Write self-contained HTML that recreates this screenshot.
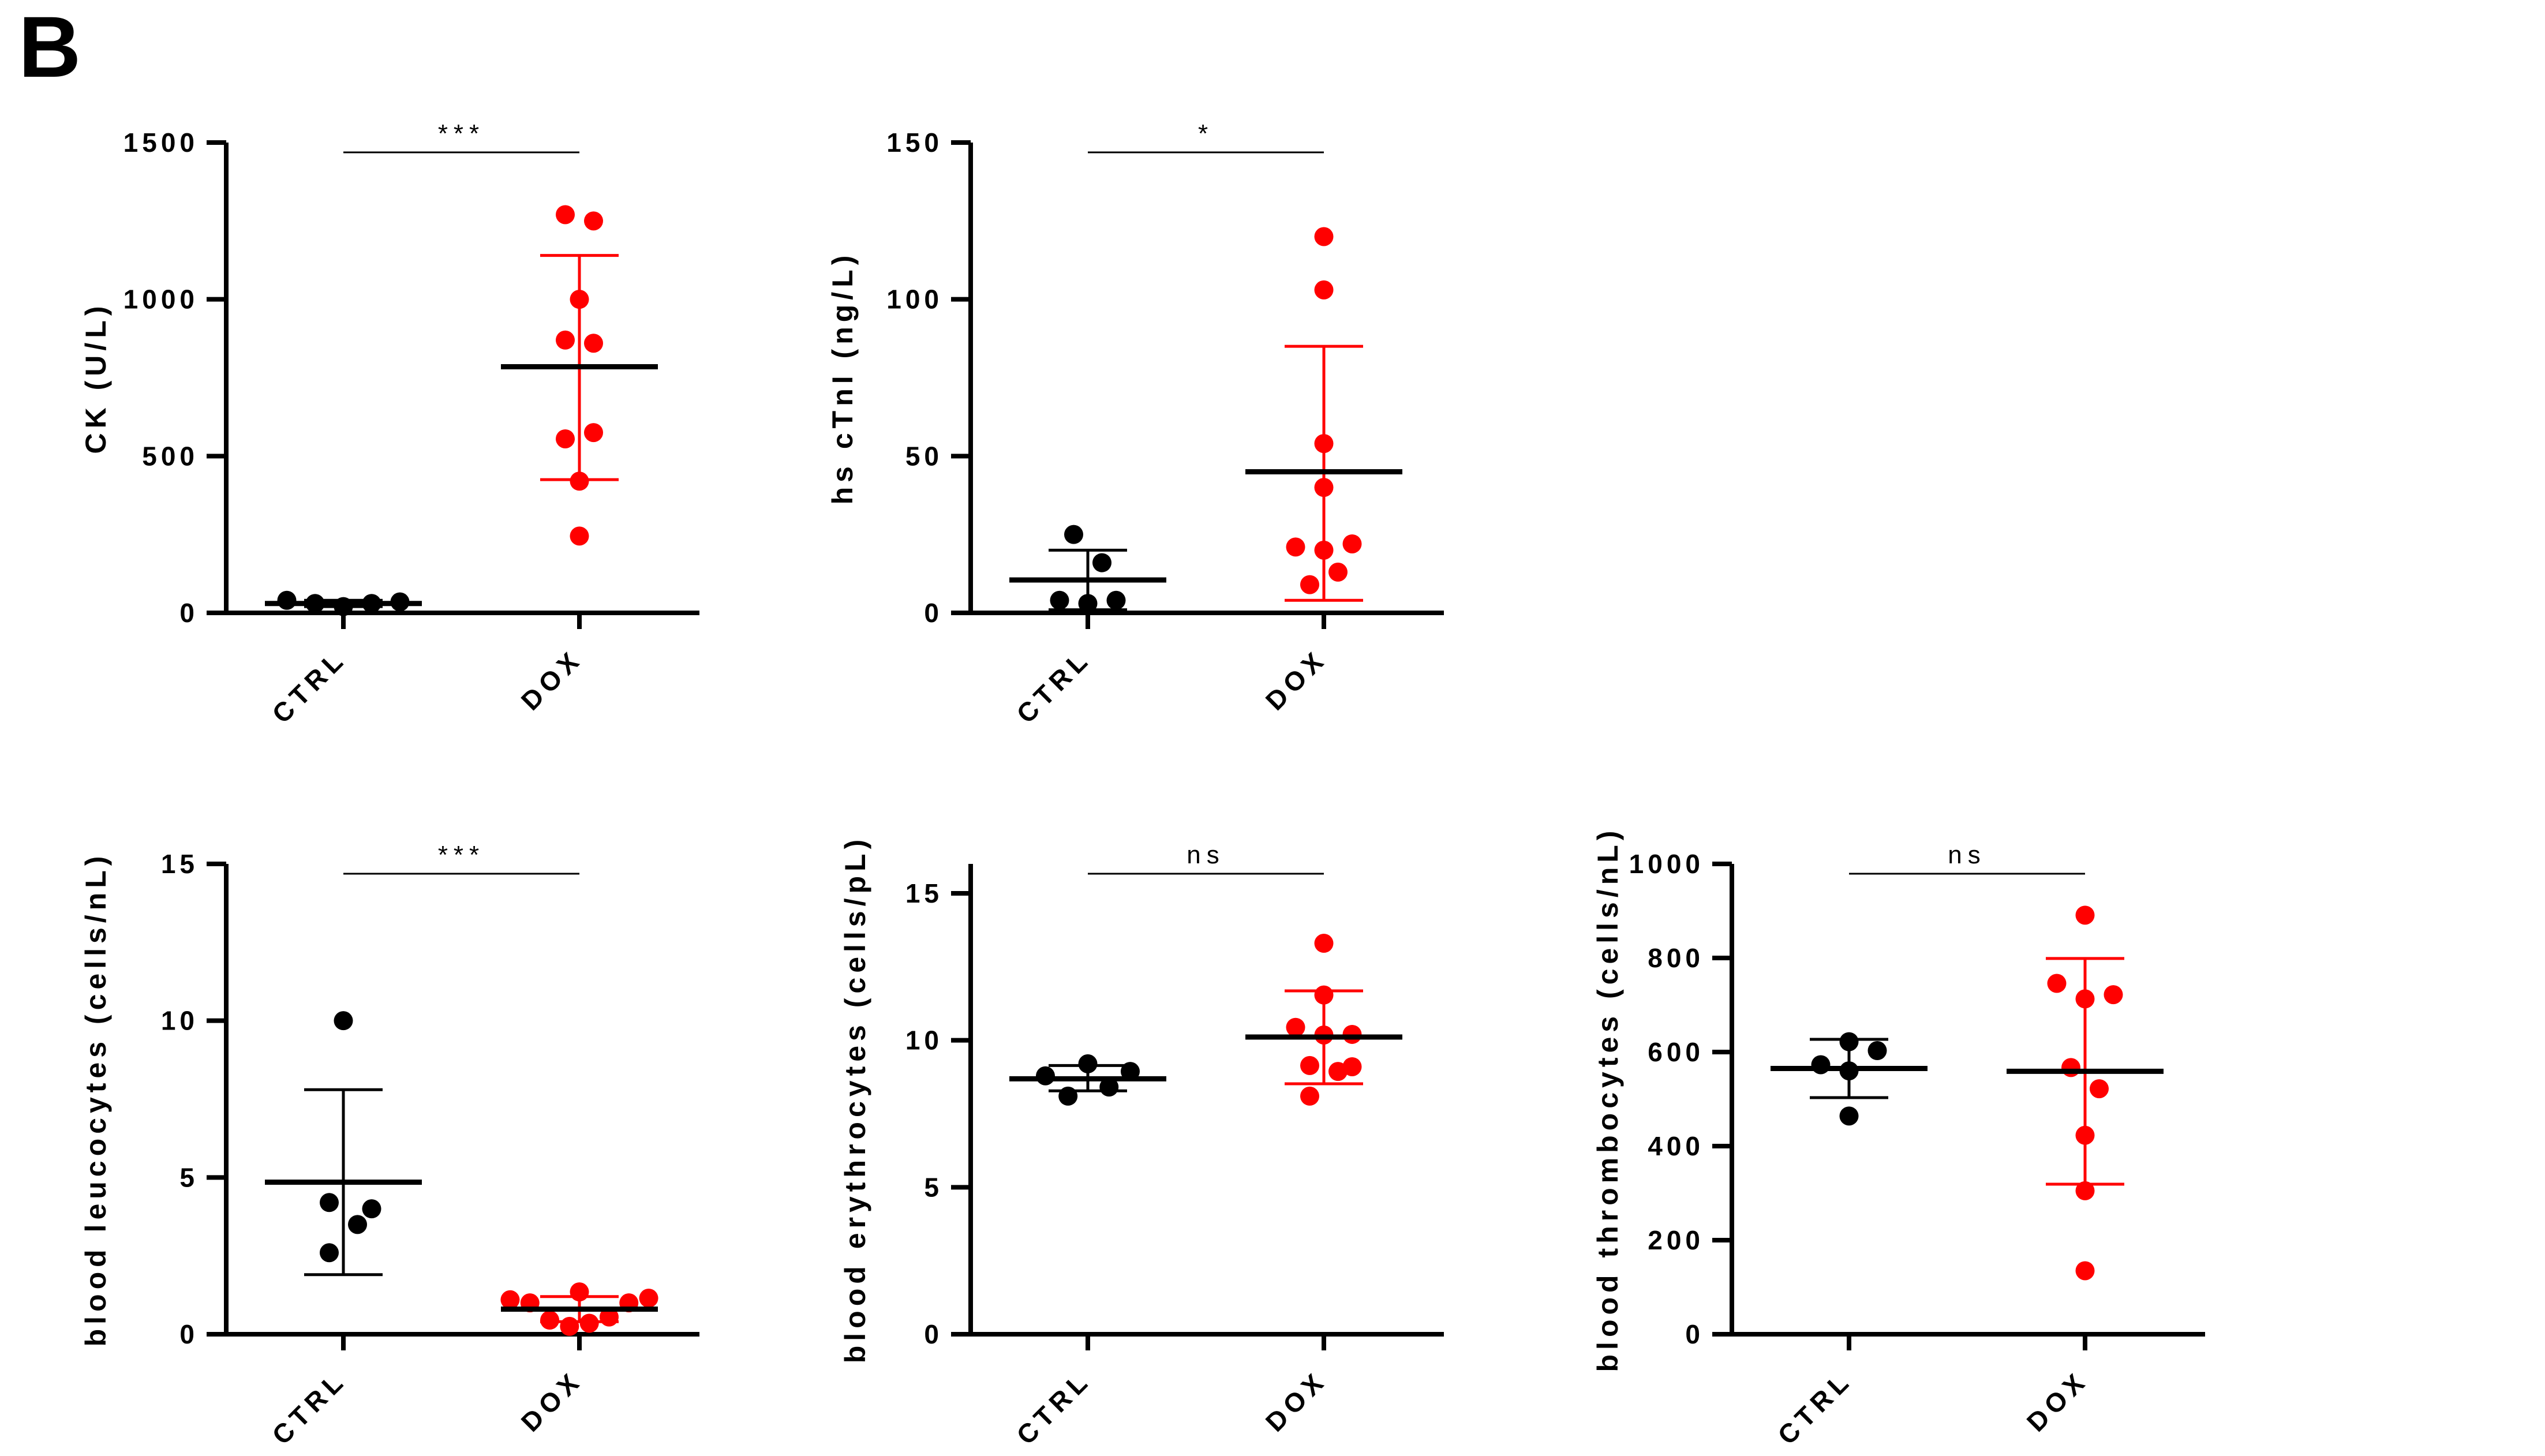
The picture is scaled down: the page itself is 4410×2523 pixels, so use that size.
<!DOCTYPE html>
<html><head><meta charset="utf-8">
<style>
html,body{margin:0;padding:0;background:#fff;}
svg{display:block;font-family:"Liberation Sans",Arial,sans-serif;}
</style></head>
<body>
<svg id="fig" width="4410" height="2523" viewBox="0 0 4410 2523" xmlns="http://www.w3.org/2000/svg">
<text x="32" y="133" font-size="150" font-weight="bold">B</text>
</svg>
<script>
// ----- data -----
const categories = ["CTRL", "DOX"];
const ckCtrl = [40, 30, 20, 30, 35];
const ckCtrlJit = [-4, -2, 0, 2, 4];
const ckDox = [1270, 1250, 1000, 870, 860, 555, 575, 420, 245];
const ckDoxJit = [-1, 1, 0, -1, 1, -1, 1, 0, 0];
const ckMean = [30, 785];
const ckLo = [20, 425];
const ckHi = [40, 1140];
const ckTicks = [0, 500, 1000, 1500];

const tnCtrl = [25, 16, 4, 3, 4];
const tnCtrlJit = [-1, 1, -2, 0, 2];
const tnDox = [120, 103, 54, 40, 21, 20, 22, 13, 9];
const tnDoxJit = [0, 0, 0, 0, -2, 0, 2, 1, -1];
const tnMean = [10.5, 45];
const tnLo = [1, 4];
const tnHi = [20, 85];
const tnTicks = [0, 50, 100, 150];

const leCtrl = [10, 4.2, 4.0, 3.5, 2.6];
const leCtrlJit = [0, -1, 2, 1, -1];
const leDox = [1.1, 1.0, 1.35, 1.0, 1.15, 0.45, 0.25, 0.35, 0.55];
const leDoxJit = [-4.9, -3.5, 0, 3.5, 4.9, -2.1, -0.7, 0.7, 2.1];
const leMean = [4.85, 0.8];
const leLo = [1.9, 0.4];
const leHi = [7.8, 1.2];
const leTicks = [0, 5, 10, 15];

const erCtrl = [8.79, 9.2, 8.94, 8.41, 8.1];
const erCtrlJit = [-3, 0, 3, 1.5, -1.4];
const erDox = [13.3, 11.54, 10.44, 10.18, 10.2, 9.14, 9.1, 8.94, 8.1];
const erDoxJit = [0, 0, -2, 0, 2, -1, 2, 1, -1];
const erMean = [8.69, 10.11];
const erLo = [8.28, 8.52];
const erHi = [9.14, 11.68];
const erTicks = [0, 5, 10, 15];

const thCtrl = [622, 603, 573, 560, 464];
const thCtrlJit = [0, 2, -2, 0, 0];
const thDox = [891, 746, 722, 713, 567, 522, 423, 305, 135];
const thDoxJit = [0, -2, 2, 0, -1, 1, 0, 0, 0];
const thMean = [565, 559];
const thLo = [503, 319];
const thHi = [627, 799];
const thTicks = [0, 200, 400, 600, 800, 1000];

const panels = [
 {name:"ck", ax:392, top:247, max:1500, ticks:ckTicks, title:"CK (U/L)", tOff:209, sig:"***",
  ctrl:ckCtrl, cj:ckCtrlJit, dox:ckDox, dj:ckDoxJit, mean:ckMean, lo:ckLo, hi:ckHi},
 {name:"hs-ctni", ax:1682, top:247, max:150, ticks:tnTicks, title:"hs cTnI (ng/L)", tOff:205, sig:"*",
  ctrl:tnCtrl, cj:tnCtrlJit, dox:tnDox, dj:tnDoxJit, mean:tnMean, lo:tnLo, hi:tnHi},
 {name:"leucocytes", ax:392, top:1497, max:15, ticks:leTicks, title:"blood leucocytes (cells/nL)", tOff:209, sig:"***",
  ctrl:leCtrl, cj:leCtrlJit, dox:leDox, dj:leDoxJit, mean:leMean, lo:leLo, hi:leHi},
 {name:"erythrocytes", ax:1682, top:1497, max:16, ticks:erTicks, title:"blood erythrocytes (cells/pL)", tOff:183, sig:"ns",
  ctrl:erCtrl, cj:erCtrlJit, dox:erDox, dj:erDoxJit, mean:erMean, lo:erLo, hi:erHi},
 {name:"thrombocytes", ax:3001, top:1497, max:1000, ticks:thTicks, title:"blood thrombocytes (cells/nL)", tOff:198, sig:"ns",
  ctrl:thCtrl, cj:thCtrlJit, dox:thDox, dj:thDoxJit, mean:thMean, lo:thLo, hi:thHi}
];

const NS = "http://www.w3.org/2000/svg";
const svg = document.getElementById("fig");
function mk(tag, attrs, parent){
  const e = document.createElementNS(NS, tag);
  for (const k in attrs) e.setAttribute(k, attrs[k]);
  (parent||svg).appendChild(e);
  return e;
}
const H = 815, JIT = 24.5, R = 16.5;

panels.forEach(p => {
  const g = mk("g", {});
  
  
  const zero = p.top + H;
  const yS = v => zero - v / p.max * H;
  const xS = i => p.ax + (i === 0 ? 203 : 612);
  const xEnd = p.ax + 820;

  const yAx = mk("line", {x1:p.ax, y1:p.top, x2:p.ax, y2:zero+4, stroke:"#000","stroke-width":8}, g);
  
  
  const xAx = mk("line", {x1:p.ax-34, y1:zero, x2:xEnd, y2:zero, stroke:"#000","stroke-width":8}, g);
  
  

  p.ticks.forEach(t => {
    const y = yS(t);
    const tk = mk("line", {x1:p.ax-34, y1:y, x2:p.ax, y2:y, stroke:"#000","stroke-width":8}, g);
    
    
    const tl = mk("text", {x:p.ax-48, y:y+16, "font-size":46, "font-weight":"bold", "text-anchor":"end", "letter-spacing":7}, g);
    tl.textContent = String(t);
    
    
  });

  const cy = (p.top + zero) / 2;
  const tx = p.ax - p.tOff;
  const tt = mk("text", {x:tx, y:cy, "font-size":50, "font-weight":"bold", "text-anchor":"middle", "letter-spacing":8,
    transform:`rotate(-90 ${tx} ${cy})`}, g);
  tt.textContent = p.title;
  
  

  categories.forEach((c, i) => {
    const x = xS(i);
    const ct = mk("line", {x1:x, y1:zero, x2:x, y2:zero+28, stroke:"#000","stroke-width":8}, g);
    
    
    const lx = x + 8, ly = zero + 82;
    const cl = mk("text", {x:lx, y:ly, "font-size":46, "font-weight":"bold", "text-anchor":"end", "letter-spacing":9,
      transform:`rotate(-45 ${lx} ${ly})`}, g);
    cl.textContent = c;
    
    
  });

  const sy = p.top + 17;
  const sl = mk("line", {x1:xS(0), y1:sy, x2:xS(1), y2:sy, stroke:"#000","stroke-width":3}, g);
  
  
  const st = mk("text", {x:(xS(0)+xS(1))/2, y:sy-18, "font-size":44, "text-anchor":"middle", "letter-spacing":10}, g);
  st.textContent = p.sig;
  
  

  const groups = [[p.ctrl, p.cj, "#000"], [p.dox, p.dj, "#ff0000"]];
  groups.forEach((gr, gi) => {
    gr[0].forEach((v, k) => {
      const c = mk("circle", {cx:xS(gi) + gr[1][k]*JIT, cy:yS(v), r:R, fill:gr[2]}, g);
      
      
    });
  });

  [0,1].forEach(gi => {
    const col = gi === 0 ? "#000" : "#ff0000";
    const x = xS(gi);
    const ev = mk("line", {x1:x, y1:yS(p.lo[gi]), x2:x, y2:yS(p.hi[gi]), stroke:col, "stroke-width":5}, g);
    
    
    [p.lo[gi], p.hi[gi]].forEach(v => {
      const cap = mk("line", {x1:x-68, y1:yS(v), x2:x+68, y2:yS(v), stroke:col, "stroke-width":5}, g);
      
      
    });
    const m = mk("line", {x1:x-136, y1:yS(p.mean[gi]), x2:x+136, y2:yS(p.mean[gi]), stroke:"#000", "stroke-width":9}, g);
    
    
  });
});
</script>
</body></html>
